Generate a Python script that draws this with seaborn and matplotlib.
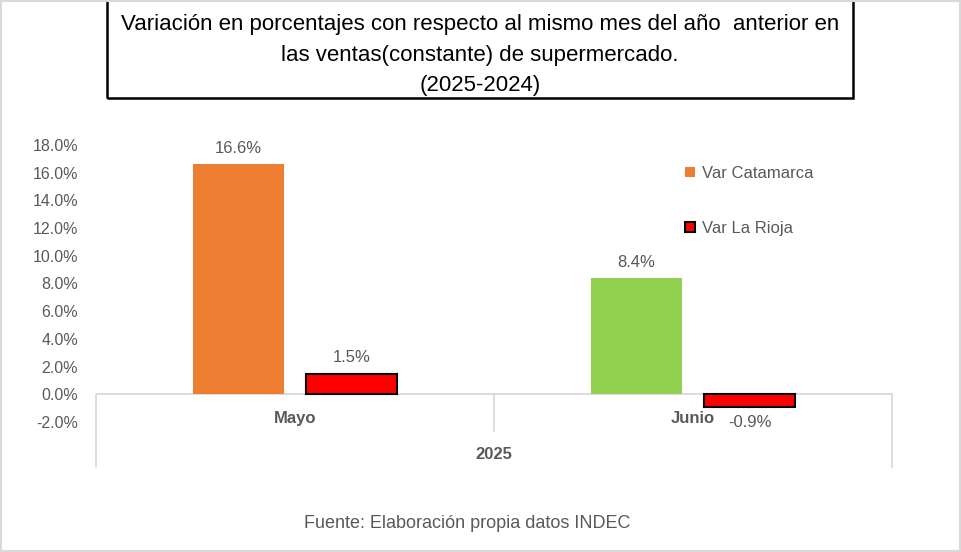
import numpy as np
import pandas as pd
import matplotlib
matplotlib.use('Agg')
import matplotlib.pyplot as plt
from matplotlib.patches import Patch, Rectangle
import seaborn as sns

# datos (variacion % interanual)
meses = ['Mayo', 'Junio']
anio = '2025'
var_catamarca = [16.6, 8.4]
var_rioja = [1.5, -0.9]
series = ['Var Catamarca', 'Var La Rioja']
color_catamarca = ['#ED7D31', '#92D050']
color_rioja = '#FF0000'
yticks = [-2, 0, 2, 4, 6, 8, 10, 12, 14, 16, 18]

titulo = ('Variación en porcentajes con respecto al mismo mes del año  anterior en\n'
          'las ventas(constante) de supermercado.\n(2025-2024)')
fuente = 'Fuente: Elaboración propia datos INDEC'

df = pd.DataFrame({
    'mes': meses * 2,
    'serie': [series[0]] * 2 + [series[1]] * 2,
    'valor': var_catamarca + var_rioja,
})

sns.set_style('white')
plt.rcParams['font.family'] = ['Liberation Sans', 'DejaVu Sans']
gris = '#595959'

W, H = 961, 552
fig = plt.figure(figsize=(W / 100, H / 100), dpi=100)
ax = fig.add_axes([96 / W, 1 - 422 / H, (892 - 96) / W, (422 - 145) / H])

sns.barplot(data=df, x='mes', y='valor', hue='serie', order=meses, hue_order=series,
            palette=[color_catamarca[0], color_rioja], width=0.57, gap=0.2,
            saturation=1, legend=False, ax=ax)

# colores / bordes
for i, p in enumerate(ax.containers[0].patches):
    p.set_facecolor(color_catamarca[i])
    p.set_edgecolor('none')
for p in ax.containers[1].patches:
    p.set_edgecolor('black')
    p.set_linewidth(1.5)

for c in ax.containers:
    ax.bar_label(c, fmt='%.1f%%', padding=6, fontsize=12, color=gris)

ax.set_xlim(-0.5, 1.5)
ax.set_ylim(-2, 18)
ax.set_yticks(yticks)
ax.set_yticklabels([f'{v:.1f}%' for v in yticks], fontsize=11.5, color=gris)
ax.tick_params(axis='y', length=0, pad=13)
ax.set_xticks([])
ax.set_xlabel('')
ax.set_ylabel('')
for s in ax.spines.values():
    s.set_visible(False)

ax.axhline(0, color='#D9D9D9', lw=1.3, zorder=0)
tr = ax.get_xaxis_transform()
for x, y0 in [(-0.5, -0.1625), (0.5, -0.0325), (1.5, -0.1625)]:
    ax.plot([x, x], [0.1, y0], color='#D9D9D9', lw=1.3, transform=tr, clip_on=False)

for i, m in enumerate(meses):
    ax.text(i, 0.014, m, transform=tr, ha='center', va='center', fontsize=12,
            fontweight='bold', color=gris)
ax.text(0.5, -0.119, anio, transform=tr, ha='center', va='center', fontsize=12,
        fontweight='bold', color=gris)

handles = [Patch(facecolor=color_catamarca[0], edgecolor='none'),
           Patch(facecolor=color_rioja, edgecolor='black', linewidth=1.5)]
fig.legend(handles, series, loc='upper left', bbox_to_anchor=(670 / W, 1 - 151 / H),
           frameon=False, fontsize=12, labelcolor=gris, handlelength=0.6,
           handleheight=0.6, handletextpad=0.4, labelspacing=2.4)

# caja del titulo
fig.patches.append(Rectangle((107 / W, 1 - 98 / H), (853 - 107) / W, 100 / H,
                             transform=fig.transFigure, fill=False, edgecolor='black',
                             lw=1.8))
fig.text(480 / W, 1 - 55 / H, titulo, ha='center', va='center', fontsize=16,
         linespacing=1.6, color='black')
fig.text(467 / W, 1 - 523 / H, fuente, ha='center', va='center', fontsize=13, color=gris)

# borde exterior
fig.patches.append(Rectangle((0, 0), 1, 1, transform=fig.transFigure, fill=False,
                             edgecolor='#D9D9D9', lw=3))

fig.savefig('out.png', dpi=100)
